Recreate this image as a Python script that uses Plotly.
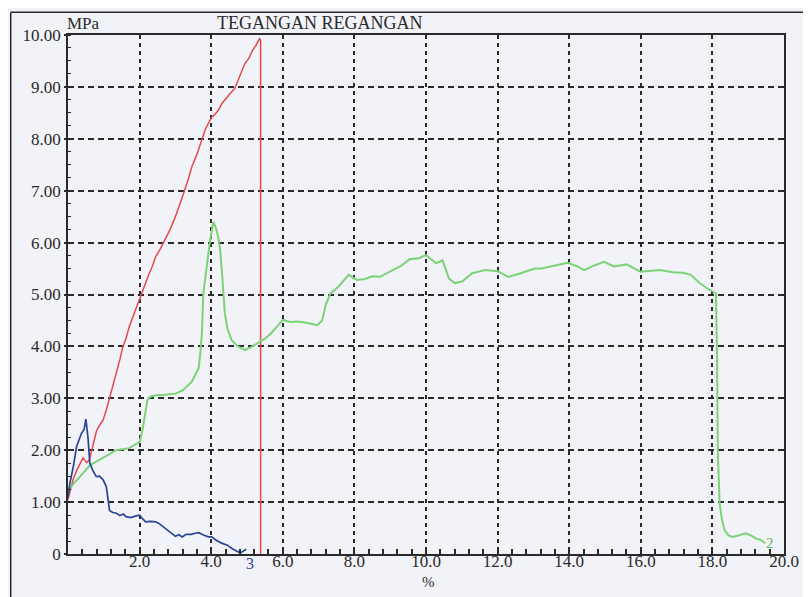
import plotly.graph_objects as go

# Strain (%) and stress (MPa)
red_x = [0, 0.05, 0.15, 0.25, 0.33, 0.42, 0.52, 0.6, 0.7, 0.8, 0.9, 0.98, 1.08, 1.16, 1.25, 1.35, 1.45,
         1.53, 1.62, 1.71, 1.8, 1.88, 1.96, 2.04, 2.15, 2.27, 2.36, 2.45, 2.58, 2.71, 2.85, 3.0, 3.1,
         3.23, 3.35, 3.46, 3.6, 3.74, 3.83, 3.92, 4.01, 4.1, 4.2, 4.3, 4.38, 4.5, 4.66, 4.8, 4.94,
         5.05, 5.15, 5.25, 5.35, 5.38, 5.38]
red_y = [1.05, 1.2, 1.45, 1.62, 1.72, 1.85, 1.76, 1.82, 2.1, 2.38, 2.5, 2.58, 2.8, 3.0, 3.2, 3.45, 3.75,
         3.99, 4.15, 4.38, 4.55, 4.68, 4.82, 4.99, 5.22, 5.41, 5.55, 5.73, 5.88, 6.05, 6.25, 6.5, 6.68,
         6.95, 7.2, 7.46, 7.7, 7.98, 8.17, 8.3, 8.41, 8.47, 8.55, 8.68, 8.75, 8.85, 8.97, 9.2, 9.45,
         9.55, 9.7, 9.8, 9.93, 9.9, 0]

blue_x = [0, 0.05, 0.15, 0.24, 0.32, 0.38, 0.45, 0.5, 0.56, 0.61, 0.7, 0.79, 0.88, 0.98, 1.07, 1.12,
          1.16, 1.25, 1.34, 1.45, 1.55, 1.62, 1.75, 1.88, 2.0, 2.08, 2.17, 2.3, 2.45, 2.54, 2.7, 2.85,
          3.0, 3.1, 3.19, 3.3, 3.45, 3.55, 3.65, 3.8, 3.92, 4.01, 4.15, 4.29, 4.45, 4.57, 4.66, 4.75,
          4.84, 4.98]
blue_y = [1.1, 1.35, 1.69, 2.07, 2.22, 2.33, 2.4, 2.6, 2.23, 1.75, 1.6, 1.49, 1.5, 1.43, 1.3, 1.05,
          0.84, 0.8, 0.79, 0.74, 0.77, 0.72, 0.7, 0.73, 0.75, 0.68, 0.62, 0.63, 0.62, 0.59, 0.5, 0.42,
          0.34, 0.37, 0.33, 0.38, 0.38, 0.4, 0.41, 0.36, 0.33, 0.33, 0.26, 0.21, 0.17, 0.11, 0.08, 0.04,
          0.03, 0.09]

green_x = [0, 0.24, 0.42, 0.61, 0.88, 1.1, 1.34, 1.5, 1.71, 1.85, 2.0, 2.08, 2.15, 2.22, 2.3, 2.45,
           2.7, 3.0, 3.2, 3.37, 3.46, 3.55, 3.65, 3.7, 3.74, 3.78, 3.88, 3.97, 4.06, 4.12, 4.2, 4.25,
           4.31, 4.38, 4.45, 4.57, 4.75, 4.94, 5.1, 5.3, 5.5, 5.67, 5.85, 6.0, 6.2, 6.41, 6.7, 6.96,
           7.1, 7.2, 7.33, 7.55, 7.84, 8.07, 8.3, 8.5, 8.71, 9.08, 9.3, 9.54, 9.8, 10.0, 10.15, 10.28,
           10.46, 10.64, 10.8, 11.01, 11.29, 11.66, 12.0, 12.3, 12.6, 13.04, 13.22, 13.6, 13.96, 14.2,
           14.42, 14.7, 14.97, 15.25, 15.6, 15.99, 16.3, 16.54, 16.9, 17.18, 17.4, 17.64, 17.85, 18.01,
           18.1, 18.13, 18.15, 18.18, 18.2, 18.27, 18.34, 18.45, 18.56, 18.75, 18.93, 19.1, 19.21,
           19.35, 19.48]
green_y = [1.23, 1.43, 1.56, 1.71, 1.81, 1.9, 2.0, 2.02, 2.04, 2.1, 2.16, 2.39, 2.7, 2.97, 3.03, 3.06,
           3.07, 3.09, 3.15, 3.26, 3.32, 3.45, 3.58, 3.9, 4.25, 5.02, 5.54, 6.05, 6.4, 6.31, 6.1, 5.86,
           5.34, 4.64, 4.35, 4.12, 4.0, 3.93, 3.98, 4.06, 4.15, 4.25, 4.4, 4.51, 4.47, 4.48, 4.45, 4.41,
           4.5, 4.8, 5.02, 5.15, 5.38, 5.28, 5.3, 5.35, 5.34, 5.47, 5.55, 5.68, 5.7, 5.76, 5.68, 5.6,
           5.66, 5.31, 5.22, 5.25, 5.41, 5.47, 5.45, 5.34, 5.4, 5.5, 5.5, 5.55, 5.61, 5.55, 5.47, 5.56,
           5.63, 5.54, 5.58, 5.44, 5.45, 5.47, 5.43, 5.42, 5.38, 5.22, 5.12, 5.05, 5.02, 3.8, 2.0, 1.4,
           0.98, 0.65, 0.46, 0.36, 0.33, 0.36, 0.4, 0.35, 0.3, 0.27, 0.21]

x_ticks = [2, 4, 6, 8, 10, 12, 14, 16, 18, 20]
x_labels = ["2.0", "4.0", "6.0", "8.0", "10.0", "12.0", "14.0", "16.0", "18.0", "20.0"]
y_ticks = [0, 1, 2, 3, 4, 5, 6, 7, 8, 9, 10]
y_labels = ["0", "1.00", "2.00", "3.00", "4.00", "5.00", "6.00", "7.00", "8.00", "9.00", "10.00"]

FONT = "Liberation Serif, Times New Roman, serif"
BG = "#f2f3f9"
INK = "#2a2a2a"

fig = go.Figure()
fig.add_trace(go.Scatter(x=red_x, y=red_y, mode="lines", line=dict(color="#e5484a", width=1.5),
                         showlegend=False, hoverinfo="skip"))
fig.add_trace(go.Scatter(x=green_x, y=green_y, mode="lines", line=dict(color="#7bd375", width=2),
                         showlegend=False, hoverinfo="skip"))
fig.add_trace(go.Scatter(x=blue_x, y=blue_y, mode="lines", line=dict(color="#2b4595", width=1.7),
                         showlegend=False, hoverinfo="skip"))

fig.update_layout(
    width=803, height=589,
    margin=dict(l=60, r=20, t=27, b=43),
    paper_bgcolor=BG, plot_bgcolor=BG,
    font=dict(family=FONT, size=17, color=INK),
    xaxis=dict(range=[0, 20], tickvals=x_ticks, ticktext=x_labels,
               showgrid=True, gridcolor=INK, gridwidth=1.6, griddash="4px,4px",
               showline=True, linecolor=INK, linewidth=1.6, mirror=True,
               ticks="inside", ticklen=6, tickwidth=1.5, tickcolor=INK, zeroline=False,
               ticklabelstandoff=-9,
               minor=dict(dtick=0.4, ticks="inside", ticklen=5, tickwidth=1.5, tickcolor=INK,
                          showgrid=False),
               tickfont=dict(family=FONT, size=17, color=INK)),
    yaxis=dict(range=[0, 10], tickvals=y_ticks, ticktext=y_labels,
               showgrid=True, gridcolor=INK, gridwidth=1.6, griddash="6px,4px",
               showline=True, linecolor=INK, linewidth=1.6, mirror=True,
               ticks="outside", ticklen=2, tickwidth=1.5, tickcolor=INK, zeroline=False,
               minor=dict(dtick=0.25, ticks="inside", ticklen=3, tickwidth=1.2, tickcolor=INK,
                          showgrid=False),
               tickfont=dict(family=FONT, size=17, color=INK)),
    shapes=[
        dict(type="line", xref="paper", yref="paper", x0=-0.080, x1=1.05, y0=1.044, y1=1.044,
             line=dict(color=INK, width=1.5)),
        dict(type="line", xref="paper", yref="paper", x0=-0.080, x1=-0.080, y0=1.044, y1=-0.12,
             line=dict(color=INK, width=1.5)),
    ],
    annotations=[
        dict(text="MPa", xref="paper", yref="paper", x=-0.004, y=1.0, xanchor="left", yanchor="bottom",
             showarrow=False, font=dict(family=FONT, size=17, color=INK)),
        dict(text="TEGANGAN REGANGAN", xref="paper", yref="paper", x=0.205, y=1.0, xanchor="left",
             yanchor="bottom", showarrow=False, font=dict(family=FONT, size=18, color=INK)),
        dict(text="%", xref="paper", yref="paper", x=0.503, y=-0.053, xanchor="center", yanchor="middle",
             showarrow=False, font=dict(family=FONT, size=15, color=INK)),
        dict(text="3", x=blue_x[-1], y=blue_y[-1], xshift=4, yshift=-14, showarrow=False,
             font=dict(family=FONT, size=16, color="#2b4595")),
        dict(text="2", x=green_x[-1], y=green_y[-1], xshift=5, yshift=0, showarrow=False,
             font=dict(family=FONT, size=15, color="#5cbf5a")),
    ],
)

fig.write_html("out.html")
